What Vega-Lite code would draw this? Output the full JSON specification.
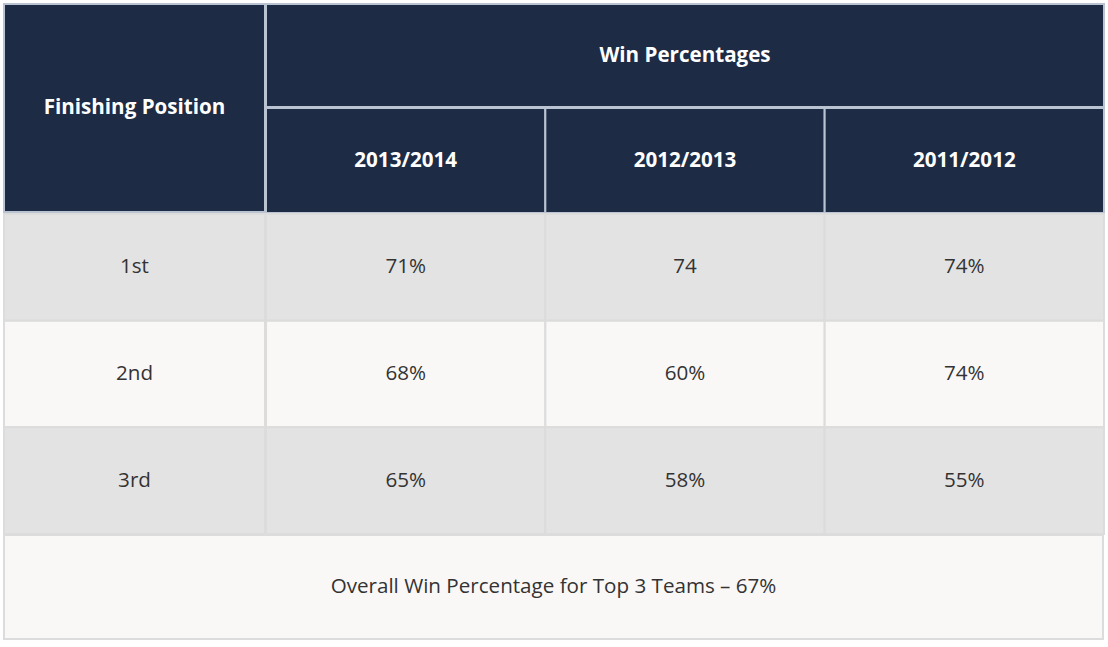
{
  "$schema": "https://vega.github.io/schema/vega-lite/v6.json",
  "padding": {"left": 3, "top": 3, "right": 3, "bottom": 8},
  "background": "#ffffff",
  "config": {
    "view": {"stroke": null},
    "concat": {"spacing": -2},
    "text": {"font": "Open Sans"}
  },
  "datasets": {
    "corner": [{"col": "Finishing Position", "row": "header"}],
    "group": [{"col": "Win Percentages", "row": "group"}],
    "seasons": [
      {"season": "2013/2014", "row": "seasons"},
      {"season": "2012/2013", "row": "seasons"},
      {"season": "2011/2012", "row": "seasons"}
    ],
    "positions": [
      {"position": "1st"},
      {"position": "2nd"},
      {"position": "3rd"}
    ],
    "wins": [
      {"position": "1st", "season": "2013/2014", "value": "71%"},
      {"position": "1st", "season": "2012/2013", "value": "74"},
      {"position": "1st", "season": "2011/2012", "value": "74%"},
      {"position": "2nd", "season": "2013/2014", "value": "68%"},
      {"position": "2nd", "season": "2012/2013", "value": "60%"},
      {"position": "2nd", "season": "2011/2012", "value": "74%"},
      {"position": "3rd", "season": "2013/2014", "value": "65%"},
      {"position": "3rd", "season": "2012/2013", "value": "58%"},
      {"position": "3rd", "season": "2011/2012", "value": "55%"}
    ],
    "footer": [{"col": "all", "row": "footer", "note": "Overall Win Percentage for Top 3 Teams – 67%"}]
  },
  "spacing": -2,
  "vconcat": [
    {
      "spacing": -2,
      "hconcat": [
        {
          "width": 261,
          "height": 208,
          "data": {"name": "corner"},
          "encoding": {
            "x": {"field": "col", "type": "nominal", "axis": null},
            "y": {"field": "row", "type": "nominal", "axis": null}
          },
          "layer": [
            {"mark": {"type": "rect", "fill": "#1d2b45", "stroke": "#b9c3d1", "strokeWidth": 2}},
            {"mark": {"type": "text", "color": "#ffffff", "fontSize": 20.6, "fontWeight": "bold"}, "encoding": {"text": {"field": "col"}}}
          ]
        },
        {
          "spacing": -2,
          "vconcat": [
            {
              "width": 838,
              "height": 103,
              "data": {"name": "group"},
              "encoding": {
                "x": {"field": "col", "type": "nominal", "axis": null},
                "y": {"field": "row", "type": "nominal", "axis": null}
              },
              "layer": [
                {"mark": {"type": "rect", "fill": "#1d2b45", "stroke": "#b9c3d1", "strokeWidth": 2}},
                {"mark": {"type": "text", "color": "#ffffff", "fontSize": 20.6, "fontWeight": "bold"}, "encoding": {"text": {"field": "col"}}}
              ]
            },
            {
              "width": 838,
              "height": 105,
              "data": {"name": "seasons"},
              "encoding": {
                "x": {"field": "season", "type": "nominal", "axis": null, "sort": null},
                "y": {"field": "row", "type": "nominal", "axis": null}
              },
              "layer": [
                {"mark": {"type": "rect", "fill": "#1d2b45", "stroke": "#b9c3d1", "strokeWidth": 2}},
                {"mark": {"type": "text", "color": "#ffffff", "fontSize": 20.6, "fontWeight": "bold"}, "encoding": {"text": {"field": "season"}}}
              ]
            }
          ]
        }
      ]
    },
    {
      "spacing": -2,
      "hconcat": [
        {
          "width": 261,
          "height": 320,
          "data": {"name": "positions"},
          "encoding": {
            "y": {"field": "position", "type": "nominal", "axis": null, "sort": null}
          },
          "layer": [
            {
              "mark": {"type": "rect", "stroke": "#dcdcdc", "strokeWidth": 2},
              "encoding": {
                "x": {"datum": "pos", "type": "nominal", "axis": null},
                "fill": {"field": "position", "type": "nominal", "legend": null, "scale": {"domain": ["1st", "2nd", "3rd"], "range": ["#e3e3e3", "#faf8f7", "#e3e3e3"]}}
              }
            },
            {
              "mark": {"type": "text", "color": "#333333", "fontSize": 20.6},
              "encoding": {"x": {"datum": "pos", "type": "nominal", "axis": null}, "text": {"field": "position"}}
            }
          ]
        },
        {
          "width": 838,
          "height": 320,
          "data": {"name": "wins"},
          "encoding": {
            "x": {"field": "season", "type": "nominal", "axis": null, "sort": ["2013/2014", "2012/2013", "2011/2012"]},
            "y": {"field": "position", "type": "nominal", "axis": null, "sort": ["1st", "2nd", "3rd"]}
          },
          "layer": [
            {
              "mark": {"type": "rect", "stroke": "#dcdcdc", "strokeWidth": 2},
              "encoding": {
                "fill": {"field": "position", "type": "nominal", "legend": null, "scale": {"domain": ["1st", "2nd", "3rd"], "range": ["#e3e3e3", "#faf8f7", "#e3e3e3"]}}
              }
            },
            {
              "mark": {"type": "text", "color": "#333333", "fontSize": 20.6},
              "encoding": {"text": {"field": "value"}}
            }
          ]
        }
      ]
    },
    {
      "width": 1099,
      "height": 104,
      "data": {"name": "footer"},
      "encoding": {
        "x": {"field": "col", "type": "nominal", "axis": null},
        "y": {"field": "row", "type": "nominal", "axis": null}
      },
      "layer": [
        {"mark": {"type": "rect", "fill": "#faf8f7", "stroke": "#dcdcdc", "strokeWidth": 2}},
        {"mark": {"type": "text", "color": "#333333", "fontSize": 20.6}, "encoding": {"text": {"field": "note"}}}
      ]
    }
  ]
}
